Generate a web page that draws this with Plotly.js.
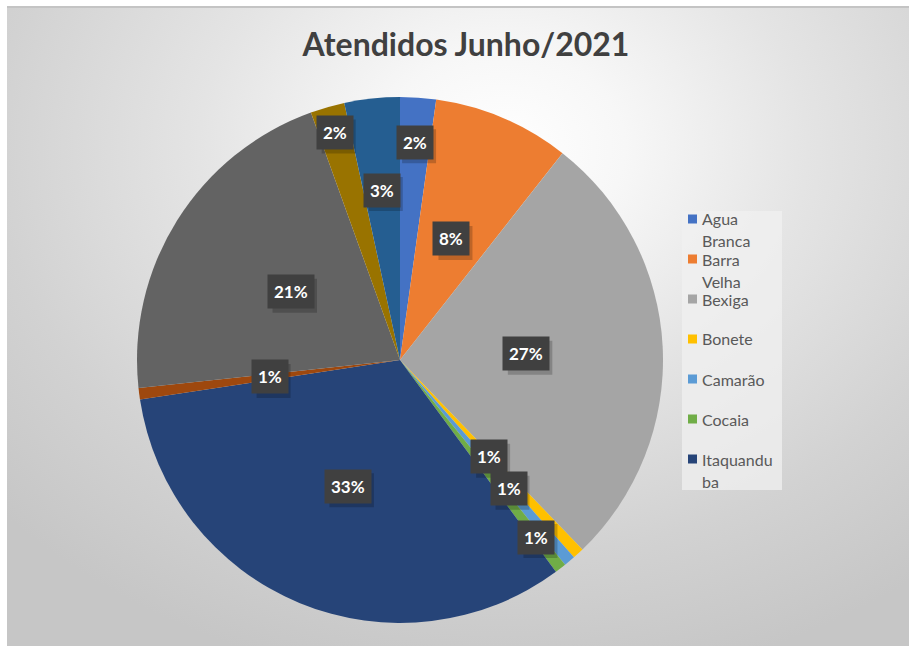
<!DOCTYPE html>
<html>
<head>
<meta charset="utf-8">
<script src="https://cdn.plot.ly/plotly-3.0.1.min.js"></script>
<style>
html,body{margin:0;padding:0;background:#ffffff;}
#wrap{position:relative;width:909px;height:646px;overflow:hidden;}
#bg{position:absolute;left:7px;top:6px;width:902px;height:640px;box-sizing:border-box;border-top:2px solid #c4c4c4;
 background:radial-gradient(ellipse 75% 85% at 55% 22%, #ffffff 0%, #f7f7f7 18%, #e4e4e4 45%, #d2d2d2 75%, #c6c6c6 100%);}
#chart{position:absolute;left:0;top:0;width:909px;height:646px;}
</style>
</head>
<body>
<div id="wrap"><div id="bg"></div><div id="chart"></div></div>
<script>
// ---- data ----
const categories = ["Agua Branca","Barra Velha","Bexiga","Bonete","Camarão","Cocaia","Itaquanduba","Perequê","Reino","Santa Tereza","Vila"];
const values = [2.2, 8.4, 27.2, 0.7, 0.7, 0.7, 32.7, 0.7, 21.2, 2.1, 3.4];
const colors = ["#4472C4","#ED7D31","#A5A5A5","#FFC000","#5B9BD5","#70AD47","#264478","#9E480E","#636363","#997300","#255E91"];
const legendCount = 7;            // Excel legend shows only the first 7 entries
const titleText = "Atendidos Junho/2021";

// ---- layout constants ----
const W = 909, H = 646;
const cx = 400, cy = 360, R = 263;                 // pie centre / radius (px)
const labelRadius = [0.83,0.5,0.48,0.5,0.64,0.85,0.52,0.5,0.49,0.9,0.65];

const domain = {
  x: [(cx - R) / W, (cx + R) / W],
  y: [(H - cy - R) / H, (H - cy + R) / H]
};

const pie = {
  type: 'pie',
  labels: categories,
  values: values,
  marker: {colors: colors, line: {width: 0}},
  sort: false,
  direction: 'clockwise',
  rotation: 0,
  textinfo: 'none',
  hoverinfo: 'label+percent',
  showlegend: false,
  domain: domain
};

const total = values.reduce((a, b) => a + b, 0);
const annotations = [];
const shapes = [];

// data labels (dark boxes) positioned from the data angles
let cum = 0;
values.forEach((v, i) => {
  const mid = (cum + v / 2) / total * 2 * Math.PI;
  cum += v;
  const px = cx + R * labelRadius[i] * Math.sin(mid);
  const py = cy - R * labelRadius[i] * Math.cos(mid);
  const str = Math.round(v / total * 100) + '%';
  // soft drop shadow behind the label box
  const bw = 10.5 * str.length + 13, bh = 34;
  shapes.push({type: 'rect', xref: 'paper', yref: 'paper',
    x0: (px - bw / 2 + 4) / W, x1: (px + bw / 2 + 4) / W,
    y0: 1 - (py - bh / 2 + 4) / H, y1: 1 - (py + bh / 2 + 4) / H,
    fillcolor: 'rgba(0,0,0,0.2)', line: {width: 0}});
  annotations.push({
    x: px / W, y: 1 - py / H, xref: 'paper', yref: 'paper',
    xanchor: 'center', yanchor: 'middle', showarrow: false,
    text: '<b>' + str + '</b>',
    font: {family: 'Lato, "Open Sans", sans-serif', size: 17, color: '#ffffff'},
    bgcolor: '#404040', borderpad: 6
  });
});

// manual legend (only first entries, wrapped like Excel)
function wrap(name, maxChars) {
  const out = [];
  name.split(' ').forEach(w => {
    while (w.length > maxChars) { out.push(w.slice(0, maxChars)); w = w.slice(maxChars); }
    if (w.length) out.push(w);
  });
  return out;
}
const legX0 = 682, legX1 = 782, legY0 = 211, legY1 = 490;
shapes.push({type: 'rect', xref: 'paper', yref: 'paper',
  x0: legX0 / W, x1: legX1 / W, y0: 1 - legY0 / H, y1: 1 - legY1 / H,
  fillcolor: 'rgba(240,240,240,0.75)', line: {width: 0}, layer: 'below'});
const itemStep = 40, firstY = 219, lineH = 22;
for (let i = 0; i < legendCount; i++) {
  const yc = firstY + i * itemStep;
  shapes.push({type: 'rect', xref: 'paper', yref: 'paper',
    x0: 688 / W, x1: 697 / W, y0: 1 - (yc - 4.5) / H, y1: 1 - (yc + 4.5) / H,
    fillcolor: colors[i], line: {width: 0}});
  wrap(categories[i], 9).forEach((ln, k) => {
    annotations.push({x: 700 / W, y: 1 - (yc + k * lineH) / H, xref: 'paper', yref: 'paper',
      xanchor: 'left', yanchor: 'middle', showarrow: false, text: ln,
      font: {family: 'Lato, "Open Sans", sans-serif', size: 16, color: '#595959'}});
  });
}

const layout = {
  width: W, height: H,
  margin: {l: 0, r: 0, t: 0, b: 0},
  paper_bgcolor: 'rgba(0,0,0,0)',
  plot_bgcolor: 'rgba(0,0,0,0)',
  title: {
    text: '<b>' + titleText + '</b>',
    x: 466 / W, xanchor: 'center', xref: 'paper',
    y: 1 - 45 / H, yanchor: 'middle', yref: 'container',
    font: {family: 'Lato, "Open Sans", sans-serif', size: 32, color: '#404040'}
  },
  annotations: annotations,
  shapes: shapes,
  showlegend: false
};

Plotly.newPlot('chart', [pie], layout, {displayModeBar: false, staticPlot: true});
</script>
</body>
</html>
